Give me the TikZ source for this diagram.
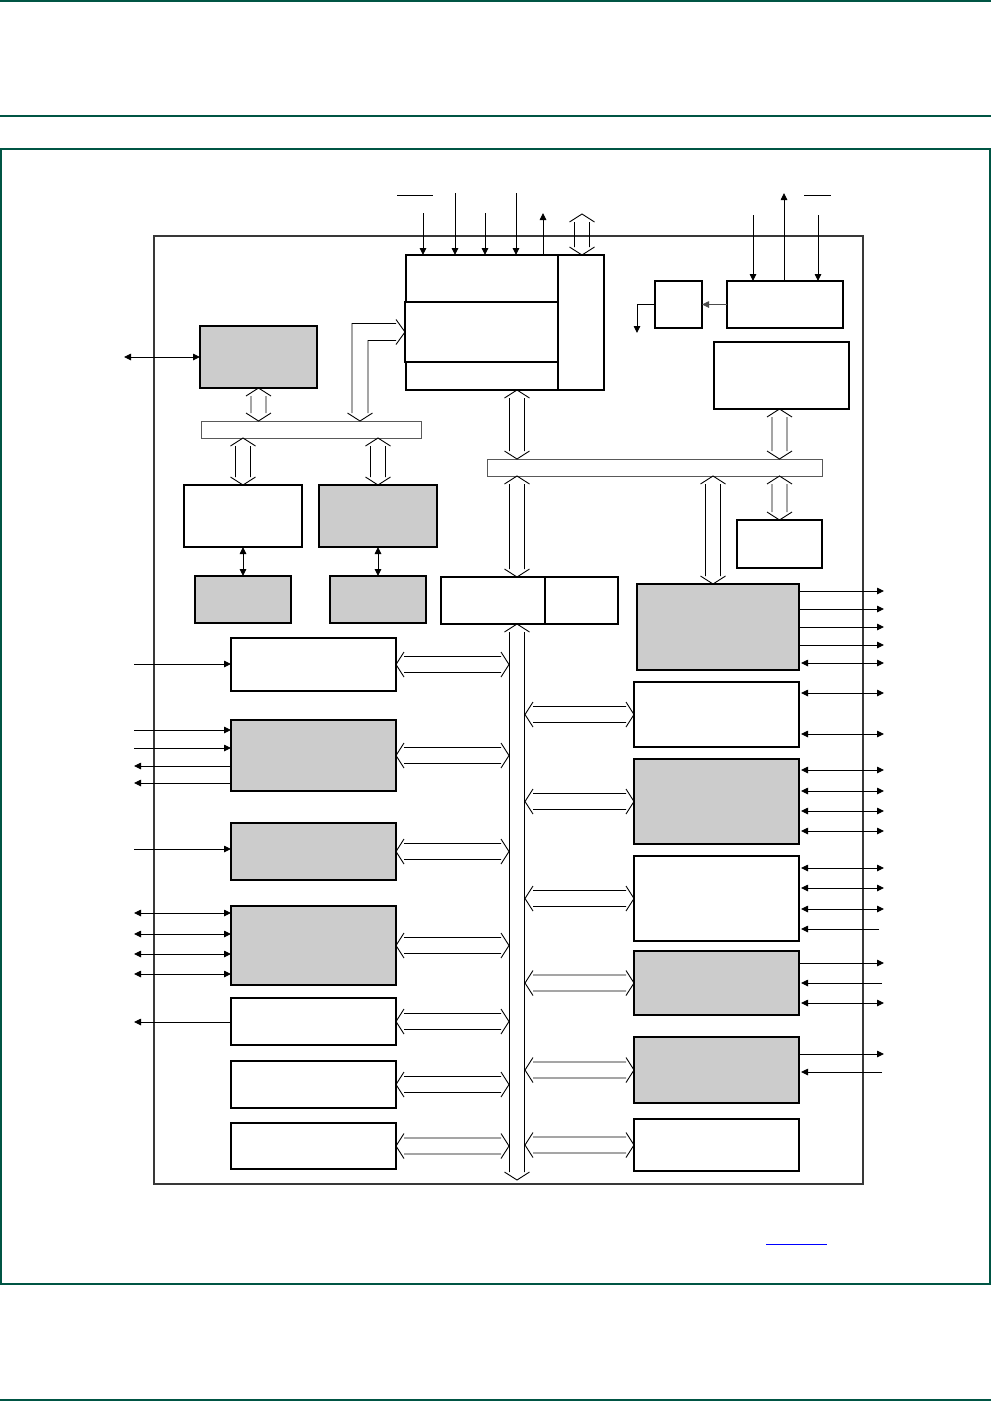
\documentclass[tikz,border=0pt]{standalone}
\usetikzlibrary{arrows.meta,calc}
\definecolor{pagegreen}{RGB}{0,85,68}
\definecolor{boxgray}{RGB}{204,204,204}
\tikzset{
 blk/.style={draw=black,line width=1.5pt,fill=white,inner sep=0pt,outer sep=0pt},
 gblk/.style={blk,fill=boxgray},
 chipst/.style={draw=black!78,line width=2pt,inner sep=0pt,outer sep=0pt},
 barst/.style={draw=black!65,line width=1pt,fill=white,inner sep=0pt,outer sep=0pt},
 sig/.style={line width=0.9pt,-{Triangle[length=7pt,width=6.5pt]}},
 bsig/.style={line width=0.9pt,{Triangle[length=7pt,width=6.5pt]}-{Triangle[length=7pt,width=6.5pt]}},
 thin/.style={line width=0.9pt},
 hol/.style={line width=0.9pt},
 pageline/.style={draw=pagegreen,line width=1.4pt},
}
\newcommand\bx[6]{\node[#6,anchor=north west,minimum width={(#4-#2)*1pt},minimum height={(#5-#3)*1pt}] (#1) at (#2,#3) {};}
% vertical hollow double arrow: #1 visual top point, #2 visual bottom point
\newcommand\vhol[2]{\path[draw,hol] let \p1=(#1),\p2=(#2) in
 (\x1-12.5pt,\y1-8pt)--(\x1,\y1)--(\x1+12.5pt,\y1-8pt)
 (\x1-7.5pt,\y1-8pt)--(\x1-7.5pt,\y2+8pt)
 (\x1+7.5pt,\y1-8pt)--(\x1+7.5pt,\y2+8pt)
 (\x1-12.5pt,\y2+8pt)--(\x1,\y2)--(\x1+12.5pt,\y2+8pt);}
% horizontal hollow double arrow: #1 left point, #2 right point
\newcommand\hhol[2]{\path[draw,hol] let \p1=(#1),\p2=(#2) in
 (\x1+8pt,\y1+12.5pt)--(\x1,\y1)--(\x1+8pt,\y1-12.5pt)
 (\x1+8pt,\y1+8pt)--(\x2-8pt,\y1+8pt)
 (\x1+8pt,\y1-8pt)--(\x2-8pt,\y1-8pt)
 (\x2-8pt,\y1+12.5pt)--(\x2,\y1)--(\x2-8pt,\y1-12.5pt);}
\begin{document}
\begin{tikzpicture}[x=1pt,y=-1pt]
\useasboundingbox (0,0) rectangle (991,1401);
% page furniture
\coordinate (pl1) at (0,1); \coordinate (pr1) at (991,1);
\draw[pageline] (pl1) -- (pr1);
\coordinate (pl2) at (0,116); \coordinate (pr2) at (991,116);
\draw[pageline] (pl2) -- (pr2);
\coordinate (pl3) at (0,1400); \coordinate (pr3) at (991,1400);
\draw[pageline] (pl3) -- (pr3);
\coordinate (fr1) at (1,149); \coordinate (fr2) at (990,1284);
\draw[draw=pagegreen,line width=1.2pt] (fr1) rectangle (fr2);
\coordinate (lk1) at (766,1244); \coordinate (lk2) at (827,1244);
\draw[blue,line width=1pt] (lk1) -- (lk2);

% chip outline
\bx{chip}{154}{236}{863}{1184}{chipst}

% blocks
\bx{cpu}{406}{255}{558}{390}{blk}
\bx{cpuin}{405}{302}{559}{362}{blk}
\bx{cpur}{558}{255}{604}{390}{blk}
\bx{cgu}{727}{281}{843}{328}{blk}
\bx{sb}{655}{281}{702}{328}{blk}
\bx{cc}{714}{342}{849}{409}{blk}
\bx{dd}{200}{326}{317}{388}{gblk}
\bx{bar1}{201}{421}{421}{438}{barst}
\bx{ee}{184}{485}{302}{547}{blk}
\bx{ff}{319}{485}{437}{547}{gblk}
\bx{gg}{195}{576}{291}{623}{gblk}
\bx{hh}{330}{576}{426}{623}{gblk}
\bx{bar2}{487}{459}{822}{476}{barst}
\bx{ii}{737}{520}{822}{568}{blk}
\bx{jj}{637}{584}{799}{670}{gblk}
\bx{kk}{441}{577}{618}{624}{blk}
\bx{kr}{545}{577}{618}{624}{blk}
\bx{ll}{231}{638}{396}{691}{blk}
\bx{mm}{231}{720}{396}{791}{gblk}
\bx{nn}{231}{823}{396}{880}{gblk}
\bx{oo}{231}{906}{396}{985}{gblk}
\bx{pp}{231}{998}{396}{1045}{blk}
\bx{qq}{231}{1061}{396}{1108}{blk}
\bx{rr}{231}{1123}{396}{1169}{blk}
\bx{vv}{634}{682}{799}{747}{blk}
\bx{ww}{634}{759}{799}{844}{gblk}
\bx{xx}{634}{856}{799}{941}{blk}
\bx{yy}{634}{951}{799}{1015}{gblk}
\bx{tt}{634}{1037}{799}{1103}{gblk}
\bx{uu}{634}{1119}{799}{1171}{blk}

% helper coordinates
\coordinate (busx) at (517,0);
\coordinate (busL) at (509,0);
\coordinate (busR) at (525,0);
\coordinate (busend) at (517,1180);
\coordinate (jx) at (713,0);
\coordinate (ctop) at (582,214);
\coordinate (lx) at (360,0);

% hollow bus arrows
\vhol{ctop}{ctop |- cpur.north}
\vhol{dd.south}{bar1.north -| dd.south}
\vhol{bar1.south -| ee.north}{ee.north}
\vhol{bar1.south -| ff.north}{ff.north}
\vhol{cpu.south -| busx}{bar2.north -| busx}
\vhol{cc.south -| ii.north}{bar2.north -| ii.north}
\vhol{bar2.south -| ii.north}{ii.north}
\vhol{bar2.south -| jx}{jj.north -| jx}
\vhol{bar2.south -| busx}{kk.north -| busx}
\vhol{kk.south -| busx}{busend}
\path[draw,hol] let \p1=(bar1.north -| lx), \p2=(cpuin.west) in
 (\x1-12.5pt,\y1+8pt)--(\x1,\y1)--(\x1+12.5pt,\y1+8pt)
 (\x1-8pt,\y1+8pt)--(\x1-8pt,\y2+8.5pt)--(\x2-9pt,\y2+8.5pt)
 (\x1+8pt,\y1+8pt)--(\x1+8pt,\y2-8.5pt)--(\x2-9pt,\y2-8.5pt)
 (\x2-9pt,\y2+12.5pt)--(\x2,\y2)--(\x2-9pt,\y2-12.5pt);
\foreach \nm in {ll,mm,nn,oo,pp,qq,rr} {\hhol{\nm.east}{\nm.east -| busL}}
\foreach \nm in {vv,ww,xx,yy,tt,uu} {\hhol{\nm.west -| busR}{\nm.west}}

% top signals
\coordinate (ob1a) at (397,195); \coordinate (ob1b) at (433,195);
\draw[thin] (ob1a) -- (ob1b);
\coordinate (ob2a) at (804,195); \coordinate (ob2b) at (831,195);
\draw[thin] (ob2a) -- (ob2b);
\foreach \x/\y in {423/213,455/193,485/213,516/193} {\coordinate (s) at (\x,\y); \draw[sig] (s) -- (s |- cpu.north);}
\coordinate (u) at (543,213); \draw[sig] (u |- cpu.north) -- (u);
\foreach \x in {753,818} {\coordinate (s) at (\x,215); \draw[sig] (s) -- (s |- cgu.north);}
\coordinate (r3) at (784,193); \draw[sig] (r3 |- cgu.north) -- (r3);
\draw[sig,draw=black!70] (cgu.west) -- (sb.east);
\coordinate (bo) at (637,333); \draw[sig] (sb.west) -| (bo);

% left signals
\coordinate (dl) at (124,357); \draw[bsig] (dl) -- (dl -| dd.west);
\draw[bsig] (ee.south) -- (gg.north);
\draw[bsig] (ff.south) -- (hh.north);
\coordinate (s) at (134,664); \draw[sig] (s) -- (s -| ll.west);
\foreach \y in {730,748} {\coordinate (s) at (134,\y); \draw[sig] (s) -- (s -| mm.west);}
\foreach \y in {766,783} {\coordinate (s) at (134,\y); \draw[sig] (s -| mm.west) -- (s);}
\coordinate (s) at (134,849); \draw[sig] (s) -- (s -| nn.west);
\foreach \y in {913,934,954,974} {\coordinate (s) at (134,\y); \draw[bsig] (s) -- (s -| oo.west);}
\coordinate (s) at (134,1022); \draw[sig] (s -| pp.west) -- (s);

% right signals
\foreach \y in {591,609,627,645} {\coordinate (s) at (884,\y); \draw[sig] (s -| jj.east) -- (s);}
\coordinate (s) at (884,663); \draw[bsig] ($(s -| jj.east)+(2,0)$) -- (s);
\foreach \y in {693,734} {\coordinate (s) at (884,\y); \draw[bsig] ($(s -| vv.east)+(2,0)$) -- (s);}
\foreach \y in {770,791,811,831} {\coordinate (s) at (884,\y); \draw[bsig] ($(s -| ww.east)+(2,0)$) -- (s);}
\foreach \y in {868,888,909} {\coordinate (s) at (884,\y); \draw[bsig] ($(s -| xx.east)+(2,0)$) -- (s);}
\coordinate (s) at (879,929); \draw[sig] (s) -- ($(s -| xx.east)+(2,0)$);
\coordinate (s) at (884,963); \draw[sig] (s -| yy.east) -- (s);
\coordinate (s) at (882,983); \draw[sig] (s) -- ($(s -| yy.east)+(2,0)$);
\coordinate (s) at (884,1003); \draw[bsig] ($(s -| yy.east)+(2,0)$) -- (s);
\coordinate (s) at (884,1054); \draw[sig] (s -| tt.east) -- (s);
\coordinate (s) at (882,1072); \draw[sig] (s) -- ($(s -| tt.east)+(2,0)$);
\end{tikzpicture}
\end{document}
